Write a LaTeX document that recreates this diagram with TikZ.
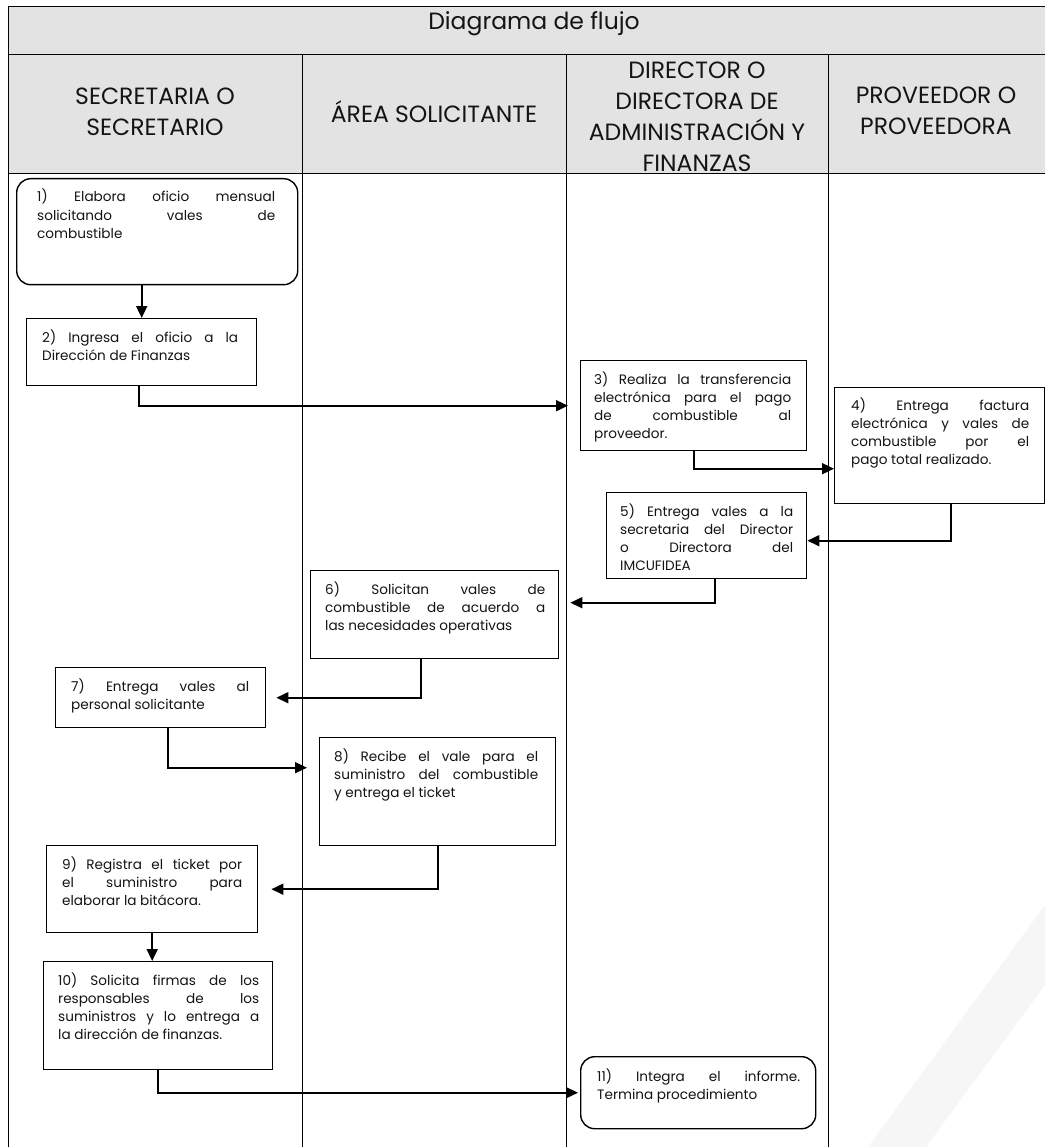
\documentclass[tikz,border=0pt]{standalone}
\usepackage{fontspec}
\setmainfont{Poppins}
\usetikzlibrary{arrows.meta}
\definecolor{hdr}{RGB}{227,227,227}
\definecolor{ink}{RGB}{20,20,20}
\definecolor{bandgray}{RGB}{246,246,246}
\begin{document}
\hyphenpenalty=10000 \exhyphenpenalty=10000 \tolerance=10000
\begin{tikzpicture}[x=1pt,y=-1pt,
  rule/.style={line width=1pt,draw=black},
  hd/.style={align=center,font=\fontsize{23.5}{31}\selectfont,text=ink,inner sep=0},
  proc/.style={draw=black,line width=1.4pt,fill=white,inner sep=0,anchor=north west},
  term/.style={proc,rounded corners=14pt},
  txt/.style={anchor=base west,inner sep=0,text width=#1,align=justify,
    font=\fontsize{13.6}{18.3}\selectfont,text=ink},
  flow/.style={line width=1.8pt,-{Triangle[length=12pt,width=11pt]}}]
\useasboundingbox (0,0) rectangle (1045,1147);

% faint background band, lower right
\fill[bandgray] (868,1147) -- (1045,905) -- (1045,985) -- (926,1147) -- cycle;

% table: title row, lane headers, lane rules
\fill[hdr] (8,7) rectangle (1045,174);
\draw[rule] (8,7) -- (1045,7);
\draw[rule] (8,55) -- (1045,55);
\draw[rule] (8,174) -- (1045,174);
\draw[rule] (8,7) -- (8,1147);
\draw[rule] (302,55) -- (302,1147);
\draw[rule] (566,55) -- (566,1147);
\draw[rule] (828,55) -- (828,1147);

\node[hd] (title) at (534,24) {Diagrama de flujo};
\node[hd] (h1) at (155,112) {SECRETARIA O\\SECRETARIO};
\node[hd] (h2) at (434,112) {ÁREA SOLICITANTE};
\node[hd] (h3) at (697,117) {DIRECTOR O\\DIRECTORA DE\\ADMINISTRACIÓN Y\\FINANZAS};
\node[hd] (h4) at (936,111) {PROVEEDOR O\\PROVEEDORA};

% process steps
\node[term,minimum width=281pt,minimum height=106pt] (b1) at (16,178) {};
\node[txt=238pt] (b1t) at ([xshift=21pt,yshift=-24pt]b1.north west)
  {1) Elabora oficio mensual\linebreak solicitando vales de\linebreak combustible};

\node[proc,minimum width=230pt,minimum height=67pt] (b2) at (26,318) {};
\node[txt=196pt] (b2t) at ([xshift=16pt,yshift=-24pt]b2.north west)
  {2) Ingresa el oficio a la\linebreak Dirección de Finanzas};

\node[proc,minimum width=226pt,minimum height=90pt] (b3) at (580,360) {};
\node[txt=197pt] (b3t) at ([xshift=14pt,yshift=-24pt]b3.north west)
  {3) Realiza la transferencia\linebreak electrónica para el pago\linebreak de combustible al\linebreak proveedor.};

\node[proc,minimum width=210pt,minimum height=116pt] (b4) at (834,387) {};
\node[txt=178pt] (b4t) at ([xshift=17pt,yshift=-23pt]b4.north west)
  {4) Entrega factura\linebreak electrónica y vales de\linebreak combustible por el\linebreak pago total realizado.};

\node[proc,minimum width=200pt,minimum height=86pt] (b5) at (606,492) {};
\node[txt=173pt] (b5t) at ([xshift=14pt,yshift=-24pt]b5.north west)
  {5) Entrega vales a la\linebreak secretaria del Director\linebreak o Directora del\linebreak IMCUFIDEA};

\node[proc,minimum width=248pt,minimum height=88pt] (b6) at (310,570) {};
\node[txt=220pt] (b6t) at ([xshift=15pt,yshift=-24pt]b6.north west)
  {6) Solicitan vales de\linebreak combustible de acuerdo a\linebreak las necesidades operativas};

\node[proc,minimum width=210pt,minimum height=60pt] (b7) at (55,667) {};
\node[txt=178pt] (b7t) at ([xshift=16pt,yshift=-24pt]b7.north west)
  {7) Entrega vales al\linebreak personal solicitante};

\node[proc,minimum width=236pt,minimum height=108pt] (b8) at (319,737) {};
\node[txt=204pt] (b8t) at ([xshift=15pt,yshift=-24pt]b8.north west)
  {8) Recibe el vale para el\linebreak suministro del combustible\linebreak y entrega el ticket};

\node[proc,minimum width=211pt,minimum height=87pt] (b9) at (46,845) {};
\node[txt=180pt] (b9t) at ([xshift=16pt,yshift=-24pt]b9.north west)
  {9) Registra el ticket por\linebreak el suministro para\linebreak elaborar la bitácora.};

\node[proc,minimum width=229pt,minimum height=108pt] (b10) at (43,961) {};
\node[txt=201pt] (b10t) at ([xshift=15pt,yshift=-24pt]b10.north west)
  {10) Solicita firmas de los\linebreak responsables de los\linebreak suministros y lo entrega a\linebreak la dirección de finanzas.};

\node[term,minimum width=235pt,minimum height=72pt] (b11) at (580,1056) {};
\node[txt=203pt] (b11t) at ([xshift=17pt,yshift=-25pt]b11.north west)
  {11) Integra el informe.\linebreak Termina procedimiento};

% flow connectors
\draw[flow] (b1.south -| b2.north) -- (b2.north);
\draw[flow] ([xshift=-3pt]b2.south) |- ([xshift=-12pt]b3.west);
\draw[flow] (b3.south) |- ([yshift=-23pt]b4.west);
\draw[flow] ([xshift=11pt]b4.south) |- ([yshift=-5pt]b5.east);
\draw[flow] ([xshift=8pt]b5.south) |- ([xshift=11pt,yshift=12pt]b6.east);
\draw[flow] ([xshift=-14pt]b6.south) |- ([xshift=10pt]b7.east);
\draw[flow] ([xshift=7pt]b7.south) |- ([xshift=-12pt,yshift=24pt]b8.west);
\draw[flow] (b8.south) |- ([xshift=13pt]b9.east);
\draw[flow] (b9.south) -- (b10.north -| b9.south);
\draw[flow] (b10.south) |- ([xshift=-2pt]b11.west);
\end{tikzpicture}
\end{document}
